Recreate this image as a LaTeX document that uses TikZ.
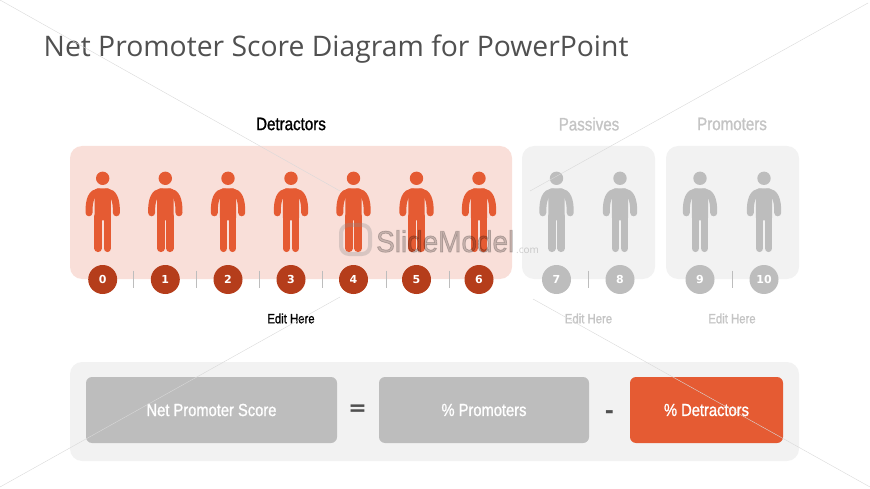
\documentclass[tikz,border=0pt]{standalone}
\usepackage{fontspec}
\setmainfont{Open Sans}
\newfontfamily\narrowfont[FakeStretch=0.84,FakeBold=1.1]{Liberation Sans}
\newfontfamily\wmfont[FakeStretch=0.93,FakeBold=2.5]{Liberation Sans}
\newfontfamily\numfont{DejaVu Sans}
\definecolor{panelred}{HTML}{F9DFD9}
\definecolor{panelgray}{HTML}{F2F2F2}
\definecolor{figred}{HTML}{E55B33}
\definecolor{numred}{HTML}{B53D1B}
\definecolor{figgray}{HTML}{BDBDBD}
\definecolor{labelgray}{HTML}{C4C4C4}
\definecolor{titlegray}{HTML}{505050}
\definecolor{signgray}{HTML}{505050}
\tikzset{
  panel/.style={rounded corners=12pt, fill=#1},
  scorebox/.style={rounded corners=6pt, fill=#1, text=white, font=\narrowfont\fontsize{17.5}{20}\selectfont},
  numdot/.style={circle, minimum size=29pt, inner sep=0pt, fill=#1, text=white, font=\numfont\bfseries\fontsize{11}{12}\selectfont},
  headlabel/.style={text=#1, font=\narrowfont\fontsize{18}{21}\selectfont},
  editlabel/.style={text=#1, font=\narrowfont\fontsize{13.5}{16}\selectfont},
  tickline/.style={figgray, line width=0.9pt},
  wmline/.style={black!15, line width=0.4pt},
  person/.pic={
    \fill (0,0) circle (6.7);
    \draw[line width=7pt, line cap=round] (-13.7,34.5) .. controls (-13.9,21) and (-11,14.5) .. (-4,13.5);
    \draw[line width=7pt, line cap=round] (13.7,34.5) .. controls (13.9,21) and (11,14.5) .. (4,13.5);
    \fill[rounded corners=3pt] (-8.2,42) -- (-8.2,10.2) -- (8.2,10.2) -- (8.2,42) -- cycle;
    \draw[line width=7.6pt, line cap=round] (-4.6,38) -- (-4.6,70);
    \draw[line width=7.6pt, line cap=round] (4.6,38) -- (4.6,70);
  }
}
\begin{document}
\begin{tikzpicture}[x=1pt, y=-1pt]
  \useasboundingbox (0,0) rectangle (870,489);

  \node[anchor=base west, inner sep=0pt, text=titlegray, font=\fontsize{28.3}{33}\selectfont] (title) at (43.5,57) {Net Promoter Score Diagram for PowerPoint};

  \fill[panel=panelred] (70,146) rectangle (512,279);
  \fill[panel=panelgray] (522,146) rectangle (655,279);
  \fill[panel=panelgray] (666,146) rectangle (799,279);

  \node[headlabel=black] (detractors) at (291,124) {Detractors};
  \node[headlabel=labelgray] (passives) at (589,124) {Passives};
  \node[headlabel=labelgray] (promoters) at (732,124) {Promoters};

  \foreach \n/\px in {0/102.7,1/165.3,2/228,3/291,4/353.5,5/416.5,6/479}{
    \pic[color=figred] at (\px,178.3) {person};
    \node[numdot=numred] (num\n) at (\px,279.5) {\n};
  }
  \foreach \n/\px in {7/556.5,8/620,9/700,10/764}{
    \pic[color=figgray] at (\px,178.3) {person};
    \node[numdot=figgray] (num\n) at (\px,279.5) {\n};
  }
  \foreach \px in {133,196.3,259.7,322.7,386,449,588.5,732}{
    \draw[tickline] (\px,270.5) -- (\px,288);
  }

  \node[editlabel=black] (edit1) at (291,318.5) {Edit Here};
  \node[editlabel=labelgray] (edit2) at (588.5,318.5) {Edit Here};
  \node[editlabel=labelgray] (edit3) at (732,318.5) {Edit Here};

  \fill[panel=panelgray] (70,362) rectangle (799,461);
  \node[scorebox=figgray, minimum width=251pt, minimum height=66pt] (nps) at (211.5,410) {Net Promoter Score};
  \node[scorebox=figgray, minimum width=210pt, minimum height=66pt] (prom) at (484,410) {\% Promoters};
  \node[scorebox=figred, minimum width=153pt, minimum height=66pt] (detr) at (706.5,410) {\% Detractors};
  \node[text=signgray, font=\numfont\bfseries\fontsize{22}{24}\selectfont] (equals) at (357.5,410) {=};
  \node[text=signgray, font=\numfont\bfseries\fontsize{22}{24}\selectfont] (minus) at (609.5,415) {-};

  \draw[wmline] (0,0) -- (340,191);
  \draw[wmline] (530,191) -- (868,3);
  \draw[wmline] (340,297) -- (0,487);
  \draw[wmline] (533,299) -- (870,487);

  \draw[black!45, opacity=0.3, line width=4pt, rounded corners=8pt] (341,225) rectangle (370,254);
  \node[anchor=base west, inner sep=0pt, opacity=0.2, text=black, font=\fontsize{30}{34}\selectfont] (wmark) at (376,252) {\wmfont SlideModel};
  \node[anchor=base west, inner sep=0pt, opacity=0.3, text=black!60, font=\fontsize{10}{12}\selectfont] (wmcom) at (516,254) {.com};
\end{tikzpicture}
\end{document}
